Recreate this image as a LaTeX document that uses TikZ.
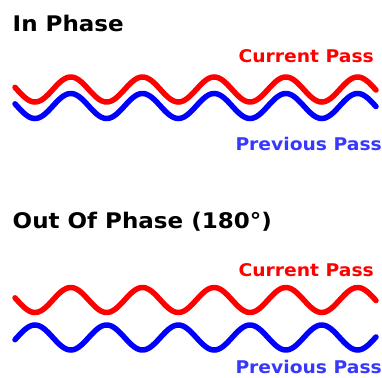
\documentclass[tikz,border=0pt]{standalone}
\usepackage{fontspec}
\setmainfont[FakeStretch=1.07]{DejaVu Sans}
\definecolor{wred}{RGB}{255,0,0}
\definecolor{wblue}{RGB}{0,0,255}
\definecolor{tblue}{RGB}{55,55,255}
\tikzset{
  wave/.style={line width=5.5pt, line cap=round, smooth, samples=220},
  title/.style={anchor=base west, inner sep=0pt, font=\bfseries\fontsize{21.5}{24}\selectfont, text=black},
  lbl/.style={anchor=base east, inner sep=0pt, font=\bfseries\fontsize{17.5}{20}\selectfont}
}
\begin{document}
\begin{tikzpicture}[x=1pt,y=-1pt]
\useasboundingbox (0,0) rectangle (382,377);
% titles
\node[title] (t1) at (12.5,32) {In Phase};
\node[title] (t2) at (12.5,228) {Out Of Phase (180°)};
% labels
\node[lbl, text=wred] (c1) at (374,63) {Current Pass};
\node[lbl, text=tblue] (p1) at (382,150) {Previous Pass};
\node[lbl, text=wred] (c2) at (374,276) {Current Pass};
\node[lbl, text=tblue, text depth=0pt] (p2) at (382,373) {Previous Pass};
% in phase waves
\draw[wave, wred] plot[domain=15:376] (\x, {89.5+12.5*sin(5.0209*(\x-17))});
\draw[wave, wblue] plot[domain=15:376] (\x, {106+12.5*sin(5.0209*(\x-17))});
% out of phase waves
\draw[wave, wred] plot[domain=15:376] (\x, {300+12.5*sin(5.0209*(\x-17))});
\draw[wave, wblue] plot[domain=15:376] (\x, {337.5-12.5*sin(5.0209*(\x-17))});
\end{tikzpicture}
\end{document}
